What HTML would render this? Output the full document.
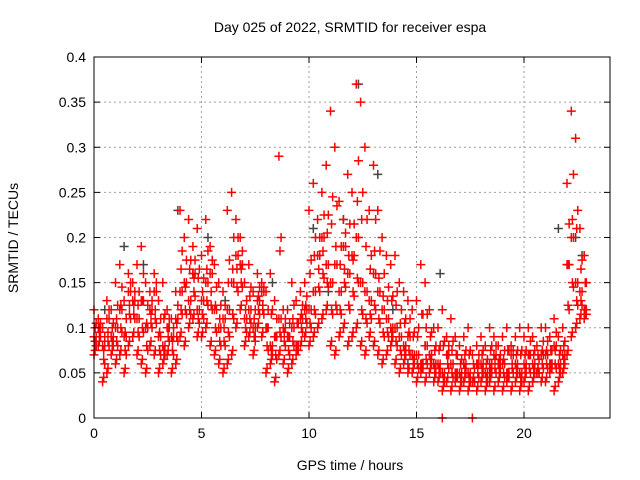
<!DOCTYPE html>
<html><head><meta charset="utf-8"><style>
body{margin:0;background:#fff}
svg{display:block;font-family:"Liberation Sans",sans-serif}
</style></head><body>
<svg id="chart" width="640" height="480" viewBox="0 0 640 480" xmlns="http://www.w3.org/2000/svg">
<text x="350" y="32" font-size="14" text-anchor="middle">Day 025 of 2022, SRMTID for receiver espa</text>
<text x="350" y="470" font-size="14" text-anchor="middle">GPS time / hours</text>
<text transform="translate(18,238) rotate(-90)" font-size="14" text-anchor="middle">SRMTID / TECUs</text>
<g id="grid"></g><g id="pts"></g><g id="axes"></g>
</svg>
<script>
const hours=[0,0.2,0.4,0.6,0.8,1,1.2,1.4,1.6,1.8,2,2.2,2.4,2.6,2.8,3,3.2,3.4,3.6,3.8,4,4.2,4.4,4.6,4.8,5,5.2,5.4,5.6,5.8,6,6.2,6.4,6.6,6.8,7,7.2,7.4,7.6,7.8,8,8.2,8.4,8.6,8.8,9,9.2,9.4,9.6,9.8,10,10.2,10.4,10.6,10.8,11,11.2,11.4,11.6,11.8,12,12.2,12.4,12.6,12.8,13,13.2,13.4,13.6,13.8,14,14.2,14.4,14.6,14.8,15,15.2,15.4,15.6,15.8,16,16.2,16.4,16.6,16.8,17,17.2,17.4,17.6,17.8,18,18.2,18.4,18.6,18.8,19,19.2,19.4,19.6,19.8,20,20.2,20.4,20.6,20.8,21,21.2,21.4,21.6,21.8,22,22.2,22.4,22.6,22.8];
const srmtidMid=[.09,.10,.08,.11,.09,.10,.12,.09,.14,.13,.11,.13,.10,.12,.14,.09,.08,.10,.09,.11,.14,.15,.13,.16,.12,.13,.15,.16,.12,.10,.11,.12,.15,.18,.17,.11,.12,.10,.13,.14,.10,.08,.09,.11,.10,.09,.10,.08,.11,.12,.12,.14,.18,.20,.17,.15,.17,.14,.19,.16,.18,.20,.15,.14,.13,.16,.14,.12,.11,.10,.10,.09,.08,.09,.07,.07,.06,.08,.07,.06,.06,.05,.07,.06,.05,.05,.06,.05,.04,.06,.06,.05,.06,.07,.06,.06,.05,.07,.06,.05,.06,.07,.06,.05,.07,.07,.06,.08,.06,.07,.17,.20,.15,.14,.12];
const srmtidHigh=[.12,.11,.10,.13,.12,.15,.17,.13,.16,.15,.17,.19,.15,.14,.16,.13,.15,.12,.11,.14,.23,.20,.22,.19,.21,.18,.22,.19,.17,.15,.14,.23,.25,.22,.20,.15,.17,.14,.16,.15,.14,.16,.13,.29,.12,.12,.15,.13,.14,.15,.23,.26,.22,.25,.28,.34,.30,.24,.22,.27,.25,.37,.35,.30,.23,.28,.23,.20,.18,.17,.18,.15,.14,.13,.12,.13,.17,.15,.12,.10,.10,.12,.09,.11,.09,.08,.09,.10,.07,.08,.09,.08,.10,.09,.08,.09,.10,.08,.09,.10,.09,.10,.09,.08,.10,.10,.09,.11,.09,.10,.26,.34,.31,.21,.18];
const srmtidLow=[.07,.08,.04,.05,.07,.06,.07,.05,.08,.09,.07,.06,.05,.08,.07,.05,.06,.07,.05,.06,.09,.08,.10,.11,.09,.09,.10,.08,.07,.06,.05,.06,.07,.10,.12,.08,.09,.07,.10,.09,.05,.06,.04,.07,.06,.05,.06,.07,.08,.09,.08,.09,.10,.11,.12,.08,.07,.09,.10,.08,.09,.10,.08,.07,.09,.08,.07,.06,.07,.08,.06,.05,.06,.05,.05,.04,.05,.04,.05,.04,.04,.03,.04,.03,.04,.03,.04,.03,.04,.03,.04,.03,.04,.03,.04,.03,.04,.03,.04,.03,.04,.03,.04,.05,.04,.04,.05,.03,.04,.05,.07,.09,.10,.11,.11];
const blackHours=[0.1,0.5,1.4,2.3,3.9,4.6,5.3,6.1,6.9,7.5,8.3,9.5,10.2,10.9,11.6,12.3,13.2,13.9,14.6,15.4,16.1,17.2,18.4,19.5,20.4,21.3,21.6,22.4,22.7];
const blackVals=[.08,.12,.19,.17,.23,.16,.20,.13,.17,.09,.15,.08,.21,.14,.22,.37,.27,.12,.06,.08,.16,.06,.05,.07,.04,.06,.21,.20,.18];
const zeroHours=[16.2,17.6];
const yTicks=[0,0.05,0.1,0.15,0.2,0.25,0.3,0.35,0.4];
const yTickLabels=["0","0.05","0.1","0.15","0.2","0.25","0.3","0.35","0.4"];
const xTicks=[0,5,10,15,20];
const X0=94,X1=610,Y0=418,Y1=57,XMAX=24,YMAX=0.4;
const sx=h=>X0+(X1-X0)*h/XMAX, sy=v=>Y0-(Y0-Y1)*v/YMAX;
const NS="http://www.w3.org/2000/svg";
function mk(tag,attrs,parent){const e=document.createElementNS(NS,tag);for(const k in attrs)e.setAttribute(k,attrs[k]);parent.appendChild(e);return e;}
const grid=document.getElementById('grid'),axes=document.getElementById('axes'),pts=document.getElementById('pts');
yTicks.forEach((v,i)=>{const y=sy(v);
 if(i>0&&i<yTicks.length-1){const g=mk('line',{x1:X0,x2:X1,y1:y,y2:y,stroke:'#a0a0a0','stroke-dasharray':'2,3'},grid);}
 const t=mk('line',{x1:X0,x2:X0+6,y1:y,y2:y,stroke:'#000'},axes);
 const t2=mk('line',{x1:X1-6,x2:X1,y1:y,y2:y,stroke:'#000'},axes);
 const l=mk('text',{x:X0-8,y:y+5,'font-size':14,'text-anchor':'end'},axes);l.textContent=yTickLabels[i];});
xTicks.forEach(h=>{const x=sx(h);
 if(h>0){const g=mk('line',{x1:x,x2:x,y1:Y0,y2:Y1,stroke:'#a0a0a0','stroke-dasharray':'2,3'},grid);}
 const t=mk('line',{x1:x,x2:x,y1:Y0,y2:Y0-6,stroke:'#000'},axes);
 const t2=mk('line',{x1:x,x2:x,y1:Y1,y2:Y1+6,stroke:'#000'},axes);
 const l=mk('text',{x:x,y:Y0+20,'font-size':14,'text-anchor':'middle'},axes);l.textContent=String(h);});
const frame=mk('rect',{x:X0,y:Y1,width:X1-X0,height:Y0-Y1,fill:'none',stroke:'#000'},axes);


function plus(h,v,color){const x=sx(h),y=sy(v);
 const p=mk('path',{d:`M${x-4.5},${y}H${x+4.5}M${x},${y-4.5}V${y+4.5}`,stroke:color,'stroke-width':1.5,fill:'none'},pts);return p;}
blackHours.forEach((h,i)=>{const p=plus(h,blackVals[i],'#444');});
[srmtidMid,srmtidHigh,srmtidLow].forEach(arr=>arr.forEach((v,i)=>{
 const p=plus(hours[i],v,'#ff0000');
 
 
 const p2=plus(hours[i]+0.1,(v+srmtidMid[i])/2,'#ff0000');
 
 
 const p3=plus(hours[i]+0.05,(v+srmtidLow[i])/2+0.005,'#ff0000');
 
 }));
zeroHours.forEach(h=>{const p=plus(h,0,'#ff0000');});
</script>
</body></html>
